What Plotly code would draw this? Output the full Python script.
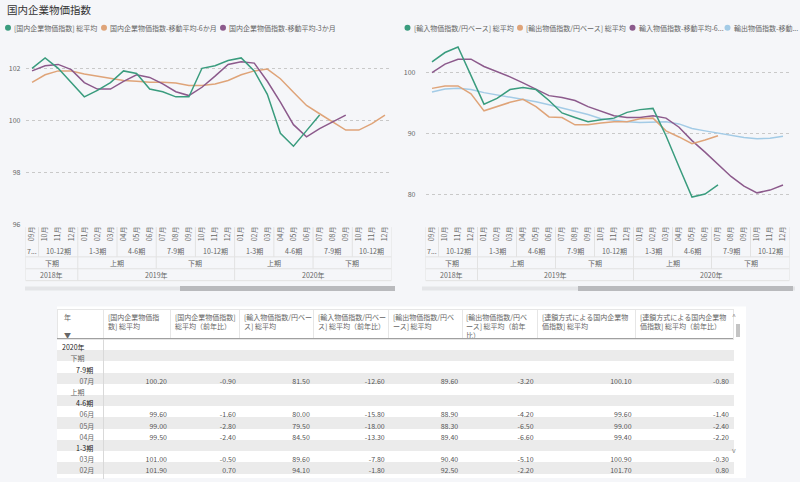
import plotly.graph_objects as go

# ---------------- data ----------------
months = ["09月", "10月", "11月", "12月",
          "01月", "02月", "03月", "04月", "05月", "06月", "07月", "08月", "09月", "10月", "11月", "12月",
          "01月", "02月", "03月", "04月", "05月", "06月", "07月", "08月", "09月", "10月", "11月", "12月"]
quarter_labels = ["7...", "10-12期", "1-3期", "4-6期", "7-9期", "10-12期", "1-3期", "4-6期", "7-9期", "10-12期"]
quarter_spans = [(0, 0), (1, 3), (4, 6), (7, 9), (10, 12), (13, 15), (16, 18), (19, 21), (22, 24), (25, 27)]
half_labels = ["下期", "上期", "下期", "上期", "下期"]
half_spans = [(0, 3), (4, 9), (10, 15), (16, 21), (22, 27)]
year_labels = ["2018年", "2019年", "2020年"]
year_spans = [(0, 3), (4, 15), (16, 27)]

# left chart: 国内企業物価指数
dom_avg = [102.0, 102.4, 102.0, 101.45, 100.9, 101.15, 101.45, 101.9, 101.8, 101.2, 101.1, 100.9,
           100.9, 102.0, 102.1, 102.3, 102.4, 101.9, 101.0, 99.5, 99.0, 99.6, 100.2]
dom_ma6 = [101.46, 101.75, 101.9, 101.9, 101.78, 101.7, 101.62, 101.53, 101.5, 101.46, 101.46, 101.43,
           101.34, 101.34, 101.4, 101.53, 101.75, 101.9, 101.97, 101.6, 101.08, 100.57, 100.25, 99.94,
           99.62, 99.62, 99.87, 100.2]
dom_ma3 = [101.9, 102.1, 102.15, 101.95, 101.45, 101.2, 101.2, 101.5, 101.75, 101.65, 101.4, 101.1,
           100.95, 101.27, 101.7, 102.15, 102.25, 102.2, 101.5, 100.7, 99.83, 99.36, 99.68, 99.94, 100.2]

# right chart: 輸入/輸出物価指数
imp_avg = [101.75, 103.3, 104.2, 99.5, 94.8, 95.75, 97.2, 97.55, 97.2, 95.4, 93.35, 92.6,
           91.9, 92.25, 92.5, 93.45, 93.9, 94.1, 89.6, 84.5, 79.5, 80.0, 81.5]
exp_avg = [97.4, 97.8, 97.8, 96.5, 93.7, 94.4, 95.1, 95.6, 94.4, 92.7, 92.6, 91.4,
           91.4, 91.7, 91.9, 91.9, 92.4, 92.5, 90.4, 89.4, 88.3, 88.9, 89.6]
imp_ma6 = [100.0, 101.4, 102.2, 102.2, 101.0, 100.2, 99.3, 98.3, 97.2, 96.2, 95.9, 95.4,
           94.4, 93.6, 92.9, 92.6, 92.6, 92.9, 92.5, 91.0, 88.8, 86.9, 84.85, 82.9,
           81.3, 80.2, 80.65, 81.5]
exp_ma6 = [96.8, 97.3, 97.4, 97.2, 96.7, 96.35, 95.9, 95.6, 95.2, 94.7, 94.2, 93.6,
           93.1, 92.4, 92.1, 91.9, 91.8, 91.9, 91.9, 91.55, 90.8, 90.4, 90.0, 89.6,
           89.3, 89.1, 89.2, 89.5]

left_names = ["[国内企業物価指数] 総平均", "国内企業物価指数-移動平均-6か月", "国内企業物価指数-移動平均-3か月"]
right_names = ["[輸入物価指数/円ベース] 総平均", "[輸出物価指数/円ベース] 総平均",
               "輸入物価指数-移動平均-6...", "輸出物価指数-移動..."]

# table
table_headers = ["年<br> <br>▼",
                 "[国内企業物価指<br>数] 総平均",
                 "[国内企業物価指数]<br>総平均（前年比）",
                 "[輸入物価指数/円ベー<br>ス] 総平均",
                 "[輸入物価指数/円ベー<br>ス] 総平均（前年比）",
                 "[輸出物価指数/円ベ<br>ース] 総平均",
                 "[輸出物価指数/円ベ<br>ース] 総平均（前年<br>比）",
                 "[連鎖方式による国内企業物<br>価指数] 総平均",
                 "[連鎖方式による国内企業物<br>価指数] 総平均（前年比）"]
row_labels = ["2020年", "下期", "7-9期", "07月", "上期", "4-6期", "06月", "05月", "04月", "1-3期", "03月", "02月"]
row_levels = [0, 1, 2, 3, 1, 2, 3, 3, 3, 2, 3, 3]
t_dom = [100.20, 99.60, 99.00, 99.50, 101.00, 101.90]
t_dom_yoy = [-0.90, -1.60, -2.80, -2.40, -0.50, 0.70]
t_imp = [81.50, 80.00, 79.50, 84.50, 89.60, 94.10]
t_imp_yoy = [-12.60, -15.80, -18.00, -13.30, -7.80, -1.80]
t_exp = [89.60, 88.90, 88.30, 89.40, 90.40, 92.50]
t_exp_yoy = [-3.20, -4.20, -6.50, -6.60, -5.10, -2.20]
t_chain = [100.10, 99.60, 99.00, 99.40, 100.90, 101.70]
t_chain_yoy = [-0.80, -1.40, -2.40, -2.20, -0.30, 0.80]

# ---------------- style ----------------
W, H = 800, 482
BG = "#F5F6F9"
FONT = "Noto Sans CJK JP, Noto Sans, sans-serif"
C_GREEN = "#3A9C7E"
C_ORANGE = "#DFA479"
C_PURPLE = "#8C5A8C"
C_LBLUE = "#A3CBE6"
TXT = "#666666"
GRID = "#C9C9C9"
SEP = "#E2E2E2"
COL_W = [46.5, 67, 69, 74, 75, 73.5, 75.5, 98, 97.5]
TABLE_X0 = 57
CLEAR = "rgba(0,0,0,0)"


def py(ypx):
    return 1 - ypx / H


def px(xpx):
    return xpx / W


fig = go.Figure()
xs = list(range(len(months)))


def add_line(vals, color, xa, ya):
    fig.add_trace(go.Scatter(x=xs[:len(vals)], y=vals, mode="lines", xaxis=xa, yaxis=ya,
                             line=dict(color=color, width=1.5), showlegend=False, hoverinfo="skip"))


add_line(dom_ma6, C_ORANGE, "x", "y")
add_line(dom_ma3, C_PURPLE, "x", "y")
add_line(dom_avg, C_GREEN, "x", "y")

add_line(exp_ma6, C_LBLUE, "x2", "y2")
add_line(imp_ma6, C_PURPLE, "x2", "y2")
add_line(exp_avg, C_ORANGE, "x2", "y2")
add_line(imp_avg, C_GREEN, "x2", "y2")

xcommon = dict(tickmode="array", tickvals=xs, ticktext=months, tickangle=-90, showgrid=False,
               zeroline=False, showline=False, ticks="", range=[-0.5, len(months) - 0.5],
               tickfont=dict(size=7, color=TXT, family=FONT), fixedrange=True)
ycommon = dict(showgrid=True, gridcolor=GRID, griddash="dot", gridwidth=1, zeroline=False,
               showline=False, ticks="", tickfont=dict(size=7, color=TXT, family=FONT))

fig.update_layout(
    width=W, height=H, margin=dict(l=0, r=0, t=0, b=0),
    paper_bgcolor=BG, plot_bgcolor=BG, font=dict(family=FONT, color=TXT),
    showlegend=False,
    xaxis=dict(domain=[px(25.5), px(391.5)], anchor="y", **xcommon),
    yaxis=dict(domain=[py(226), py(55)], range=[96, 102.53], tickvals=[96, 98, 100, 102],
               anchor="x", ticklabelstandoff=4, **ycommon),
    xaxis2=dict(domain=[px(425.5), px(789.5)], anchor="y2", **xcommon),
    yaxis2=dict(domain=[py(226), py(45)], range=[75.05, 104.6], tickvals=[80, 90, 100],
                anchor="x2", ticklabelstandoff=9, **ycommon),
)

shapes = []
annotations = []

# title
annotations.append(dict(text="国内企業物価指数", x=px(5), y=py(10), xref="paper", yref="paper",
                        xanchor="left", yanchor="middle", showarrow=False,
                        font=dict(size=10.5, color="#333333", family=FONT)))


# legends
def legend(items, y):
    for (cx, tx, color, name) in items:
        shapes.append(dict(type="circle", xref="paper", yref="paper",
                           x0=px(cx - 3), x1=px(cx + 3), y0=py(y + 3), y1=py(y - 3),
                           fillcolor=color, line=dict(width=0)))
        annotations.append(dict(text=name, x=px(tx), y=py(y), xref="paper", yref="paper",
                                xanchor="left", yanchor="middle", showarrow=False,
                                font=dict(size=7, color=TXT, family=FONT)))


legend([(8, 12, C_GREEN, left_names[0]), (104, 108, C_ORANGE, left_names[1]),
        (223, 227, C_PURPLE, left_names[2])], 28)
legend([(407.5, 412, C_GREEN, right_names[0]), (520, 524, C_ORANGE, right_names[1]),
        (632.5, 637, C_PURPLE, right_names[2]), (727.5, 732, C_LBLUE, right_names[3])], 28)


# hierarchical category axis
def hierarchy(xref):
    n = len(months)
    ytop, yq, yh, yy = 229, 259, 271, 283
    for y in (yq, yh, yy):
        shapes.append(dict(type="line", xref=xref, yref="paper", x0=-0.5, x1=n - 0.5,
                           y0=py(y), y1=py(y), line=dict(color=SEP, width=1)))
    for x in (-0.5, n - 0.5):
        shapes.append(dict(type="line", xref=xref, yref="paper", x0=x, x1=x,
                           y0=py(ytop), y1=py(yy), line=dict(color=SEP, width=1)))
    hb = [s for (s, e) in half_spans[1:]]
    yb = [s for (s, e) in year_spans[1:]]
    for (s, e) in quarter_spans[1:]:
        bottom = yy if s in yb else (yh if s in hb else yq)
        shapes.append(dict(type="line", xref=xref, yref="paper", x0=s - 0.5, x1=s - 0.5,
                           y0=py(ytop), y1=py(bottom), line=dict(color=SEP, width=1)))
    for labels, spans, ypos in ((quarter_labels, quarter_spans, 253),
                                (half_labels, half_spans, 265),
                                (year_labels, year_spans, 277)):
        for lab, (s, e) in zip(labels, spans):
            annotations.append(dict(text=lab, x=(s + e) / 2, y=py(ypos), xref=xref, yref="paper",
                                    xanchor="center", yanchor="middle", showarrow=False,
                                    font=dict(size=7, color=TXT, family=FONT)))


hierarchy("x")
hierarchy("x2")

# chart scrollbars
for (a, b, t0, t1) in ((25, 395, 180, 395), (422, 795, 578, 793)):
    shapes.append(dict(type="rect", xref="paper", yref="paper", x0=px(a), x1=px(b),
                       y0=py(293), y1=py(289), fillcolor="#E4E5E8", line=dict(width=0), layer="below"))
    shapes.append(dict(type="rect", xref="paper", yref="paper", x0=px(t0), x1=px(t1),
                       y0=py(293.5), y1=py(288.5), fillcolor="#B9BABD", line=dict(width=0)))

# table background
shapes.append(dict(type="rect", xref="paper", yref="paper", x0=px(57), x1=px(746),
                   y0=0, y1=py(309), fillcolor="white", line=dict(width=0), layer="below"))

# table cells
INDENT = ["", "\u3000\u2009", "\u3000\u3000", "\u3000\u3000\u2002"]
col0 = [INDENT[lv] + lab for lab, lv in zip(row_labels, row_levels)]
value_cols = [t_dom, t_dom_yoy, t_imp, t_imp_yoy, t_exp, t_exp_yoy, t_chain, t_chain_yoy]
is_leaf = [lv == 3 for lv in row_levels]
cols = [col0]
for vc in value_cols:
    it = iter(vc)
    cols.append([f"{next(it):.2f}" if leaf else "" for leaf in is_leaf])

row_fill = ["#FFFFFF" if i % 2 == 0 else "#EBEBEB" for i in range(len(row_labels))]
fills = [row_fill] * len(cols)
text_colors = [["#222222" if lv in (0, 2) else "#666666" for lv in row_levels]] + \
              [["#555555"] * len(row_levels)] * (len(cols) - 1)

# background layer: row stripes and header grid
fig.add_trace(go.Table(
    domain=dict(x=[px(TABLE_X0), px(TABLE_X0 + sum(COL_W))], y=[0, py(312)]),
    columnwidth=COL_W,
    header=dict(values=[""] * len(table_headers), height=30,
                fill=dict(color="white"), line=dict(color="#E6E6E6", width=1)),
    cells=dict(values=[[""] * len(row_labels)] * len(cols), height=11.2,
               fill=dict(color=fills), line=dict(color=fills, width=1)),
))
# text layer (offset to match the reference's tighter cell padding)
TXT_X0 = 54
TXT_W = [COL_W[0] + (TABLE_X0 - TXT_X0) + 4.5] + COL_W[1:]
fig.add_trace(go.Table(
    domain=dict(x=[px(TXT_X0), px(TXT_X0 + sum(TXT_W))], y=[0, py(309.5)]),
    columnwidth=TXT_W,
    header=dict(values=[""] * len(table_headers), height=30,
                fill=dict(color=CLEAR), line=dict(color=CLEAR, width=0)),
    cells=dict(values=cols, align=["left"] + ["right"] * 8, height=11.2,
               font=dict(size=7, color=text_colors, family=FONT),
               fill=dict(color=CLEAR), line=dict(color=CLEAR, width=0)),
))

# header labels
edge = TABLE_X0
for i, (w, lab) in enumerate(zip(COL_W, table_headers)):
    annotations.append(dict(text=lab, x=px(edge + (5 if i == 0 else 2)), y=py(313), xref="paper",
                            yref="paper", xanchor="left", yanchor="top", align="left",
                            showarrow=False, font=dict(size=7, color=TXT, family=FONT)))
    edge += w

# header bottom rule and row-header divider (drawn as boxes above the table layer)
annotations.append(dict(text=" ", x=px(TABLE_X0), y=py(341), xref="paper", yref="paper",
                        xanchor="left", yanchor="top", showarrow=False, width=sum(COL_W), height=1,
                        borderpad=0, borderwidth=0, bgcolor="#A0A0A0", font=dict(size=1)))
annotations.append(dict(text=" ", x=px(TABLE_X0 + COL_W[0]), y=py(342), xref="paper", yref="paper",
                        xanchor="left", yanchor="top", showarrow=False, width=1, height=140,
                        borderpad=0, borderwidth=0, bgcolor="#D9D9D9", font=dict(size=1)))

# table scrollbar
annotations.append(dict(text=" ", x=px(735.5), y=py(327), xref="paper", yref="paper",
                        xanchor="left", yanchor="top", showarrow=False, width=4, height=13,
                        borderpad=0, borderwidth=0, bgcolor="#C4C4C4", font=dict(size=1)))
annotations.append(dict(text="^", x=px(737.5), y=py(319), xref="paper", yref="paper",
                        showarrow=False, font=dict(size=7, color="#888888", family=FONT)))
annotations.append(dict(text="v", x=px(737.5), y=py(461), xref="paper", yref="paper",
                        showarrow=False, font=dict(size=7, color="#888888", family=FONT)))

fig.update_layout(shapes=shapes, annotations=annotations)
fig.write_html("out.html", config={"displayModeBar": False},
               post_script="document.body.style.margin='0';document.body.style.overflow='hidden';")
